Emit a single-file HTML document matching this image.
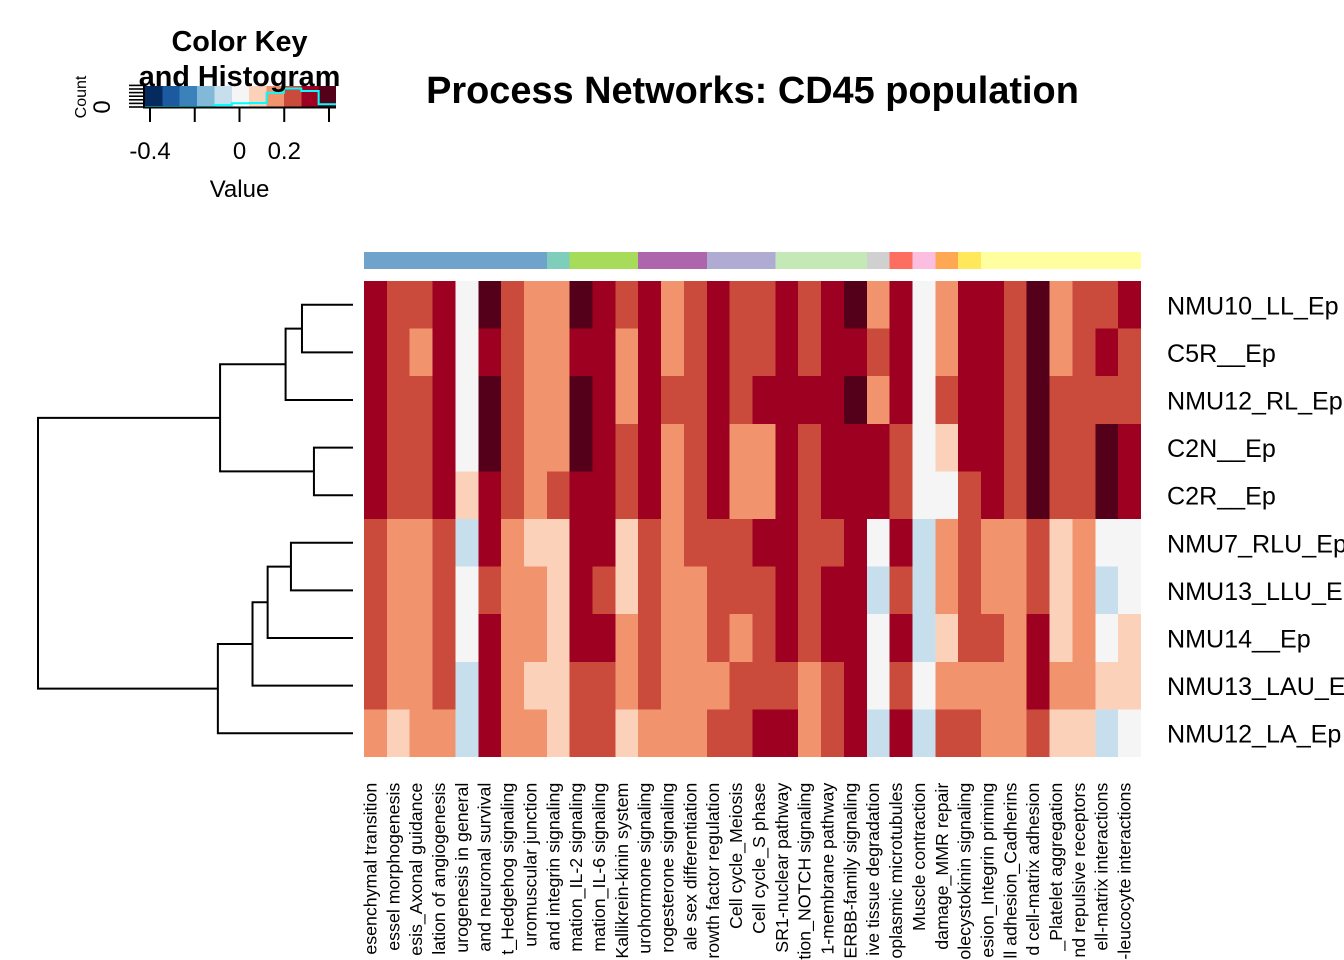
<!DOCTYPE html>
<html lang="en">
<head>
<meta charset="utf-8">
<title>Process Networks: CD45 population</title>
<style>
  html, body { margin: 0; padding: 0; background: #fff; }
  svg { display: block; font-family: "Liberation Sans", Arial, sans-serif; }
</style>
</head>
<body>
<svg id="chart" xmlns="http://www.w3.org/2000/svg" width="1344" height="960" viewBox="0 0 1344 960">
  <rect x="0" y="0" width="1344" height="960" fill="#ffffff"/>
  <g id="key"></g>
  <g id="sidebar"></g>
  <g id="cells"></g>
  <g id="dendro"></g>
  <g id="rowlabels"></g>
  <g id="collabels"></g>
  <text x="752.5" y="103" text-anchor="middle" font-size="37.9" font-weight="700">Process Networks: CD45 population</text>
  <text x="239.5" y="51" text-anchor="middle" font-size="28.8" font-weight="700">Color Key</text>
  <text x="239.5" y="86" text-anchor="middle" font-size="28.8" font-weight="700">and Histogram</text>
  <text x="239.5" y="197" text-anchor="middle" font-size="24">Value</text>
  <text transform="translate(86 97) rotate(-90)" text-anchor="middle" font-size="16">Count</text>
</svg>
<script>
// ---- data ----
const rowLabels = ["NMU10_LL_Ep","C5R__Ep","NMU12_RL_Ep","C2N__Ep","C2R__Ep","NMU7_RLU_Ep","NMU13_LLU_Ep","NMU14__Ep","NMU13_LAU_Ep","NMU12_LA_Ep"];
const colLabels = [
  "esenchymal transition","essel morphogenesis","esis_Axonal guidance","lation of angiogenesis",
  "urogenesis in general","and neuronal survival","t_Hedgehog signaling","uromuscular junction",
  "and integrin signaling","mation_IL-2 signaling","mation_IL-6 signaling","Kallikrein-kinin system",
  "urohormone signaling","rogesterone signaling","ale sex differentiation","rowth factor regulation",
  "Cell cycle_Meiosis","Cell cycle_S phase","SR1-nuclear pathway","tion_NOTCH signaling","1-membrane pathway",
  "ERBB-family signaling","ive tissue degradation","oplasmic microtubules","Muscle contraction","damage_MMR repair",
  "olecystokinin signaling","esion_Integrin priming","ll adhesion_Cadherins","d cell-matrix adhesion",
  "_Platelet aggregation","nd repulsive receptors","ell-matrix interactions","-leucocyte interactions"
];
const colGroups = [0,0,0,0,0,0,0,0,1,2,2,2,3,3,3,4,4,4,5,5,5,5,6,7,8,9,10,11,11,11,11,11,11,11];
const groupColors = ["#6FA3CC","#7FCDBB","#A6DC5A","#AD65AC","#B0ABD3","#C5E8B7","#D0D0D0","#FD6E61","#FBBEE0","#FEA853","#FFE95B","#FFFF9F"];
const valuesNMU10LL = [.31,.24,.24,.31,0,.39,.24,.16,.16,.39,.31,.24,.31,.16,.24,.31,.24,.24,.31,.24,.31,.39,.16,.31,0,.16,.31,.31,.24,.39,.16,.24,.24,.31];
const valuesC5R = [.31,.24,.16,.31,0,.31,.24,.16,.16,.31,.31,.16,.31,.16,.24,.31,.24,.24,.31,.24,.31,.31,.24,.31,0,.16,.31,.31,.24,.39,.16,.24,.31,.24];
const valuesNMU12RL = [.31,.24,.24,.31,0,.39,.24,.16,.16,.39,.31,.16,.31,.24,.24,.31,.24,.31,.31,.31,.31,.39,.16,.31,0,.24,.31,.31,.24,.39,.24,.24,.24,.24];
const valuesC2N = [.31,.24,.24,.31,0,.39,.24,.16,.16,.39,.31,.24,.31,.16,.24,.31,.16,.16,.31,.24,.31,.31,.31,.24,0,.08,.31,.31,.24,.39,.24,.24,.39,.31];
const valuesC2R = [.31,.24,.24,.31,.08,.31,.24,.16,.24,.31,.31,.24,.31,.16,.24,.31,.16,.16,.31,.24,.31,.31,.31,.24,0,0,.24,.31,.24,.39,.24,.24,.39,.31];
const valuesNMU7RLU = [.24,.16,.16,.24,-.08,.31,.16,.08,.08,.31,.31,.08,.24,.16,.24,.24,.24,.31,.31,.24,.24,.31,0,.31,-.08,.16,.24,.16,.16,.24,.08,.16,0,0];
const valuesNMU13LLU = [.24,.16,.16,.24,0,.24,.16,.16,.08,.31,.24,.08,.24,.16,.16,.24,.24,.24,.31,.24,.31,.31,-.08,.24,-.08,.16,.24,.16,.16,.24,.08,.16,-.08,0];
const valuesNMU14 = [.24,.16,.16,.24,0,.31,.16,.16,.08,.31,.31,.16,.24,.16,.16,.24,.16,.24,.31,.24,.31,.31,0,.31,-.08,.08,.24,.24,.16,.31,.08,.16,0,.08];
const valuesNMU13LAU = [.24,.16,.16,.24,-.08,.31,.16,.08,.08,.24,.24,.16,.24,.16,.16,.16,.24,.24,.24,.16,.24,.31,0,.24,0,.16,.16,.16,.16,.31,.16,.16,.08,.08];
const valuesNMU12LA = [.16,.08,.16,.16,-.08,.31,.16,.16,.08,.24,.24,.08,.16,.16,.16,.24,.24,.31,.31,.16,.24,.31,-.08,.31,-.08,.24,.24,.16,.16,.24,.08,.08,-.08,0];
const heatValues = [valuesNMU10LL,valuesC5R,valuesNMU12RL,valuesC2N,valuesC2R,valuesNMU7RLU,valuesNMU13LLU,valuesNMU14,valuesNMU13LAU,valuesNMU12LA];
const paletteColors = ["#052A5E","#1C5AA0","#3A82B9","#82B8D8","#C7DFED","#F5F5F5","#FCD1BA","#F1946E","#CA4A3C","#9E0022","#54001A"];
const keyTicks = [-0.4,-0.2,0,0.2,0.4];
const keyTickLabels = ["-0.4","","0","0.2",""];
const countTicks = [0,20,40,60,80,100,120];
// dendrogram merges: child ids (>=0 leaf row index, <0 merge -n-1) and merge height
const mergeLeft = [0,-1,3,-2,5,-5,-6,-7,-4];
const mergeRight = [1,2,4,-3,6,7,8,9,-8];
const mergeHeights = [0.162,0.214,0.124,0.422,0.197,0.271,0.319,0.429,1.0];

// ---- scales ----
const NS = "http://www.w3.org/2000/svg";
const colX = i => 364 + i * (1141 - 364) / colLabels.length;
const rowY = i => 281 + i * (757 - 281) / rowLabels.length;
const keyX = v => 239.5 + v * 223.75;
const countY = c => 107 - c * 0.18;
const heightX = h => 353 - h * 315;
const binMin = -0.4223, binWidth = 0.0776;
const binOf = v => Math.max(0, Math.min(paletteColors.length - 1, Math.floor((v - binMin) / binWidth)));

function mk(parent, tag, attrs) {
  const el = document.createElementNS(NS, tag);
  for (const k in attrs) el.setAttribute(k, attrs[k]);
  parent.appendChild(el);
  return el;
}
const $ = id => document.getElementById(id);

// ---- column side colours ----
colGroups.forEach((g, i) => {
  const el = mk($("sidebar"), "rect", {x: colX(i), y: 252, width: colX(i + 1) - colX(i), height: 17, fill: groupColors[g], "shape-rendering": "crispEdges"});
  
  
});

// ---- heatmap cells ----
heatValues.forEach((row, r) => {
  row.forEach((v, c) => {
    const el = mk($("cells"), "rect", {x: colX(c), y: rowY(r), width: colX(c + 1) - colX(c), height: rowY(r + 1) - rowY(r), fill: paletteColors[binOf(v)], "shape-rendering": "crispEdges"});
    
    
  });
});

// ---- row labels ----
rowLabels.forEach((t, r) => {
  const el = mk($("rowlabels"), "text", {x: 1167, y: (rowY(r) + rowY(r + 1)) / 2 + 9.5, "font-size": 25.1});
  el.textContent = t;
  
  
});

// ---- column labels ----
colLabels.forEach((t, c) => {
  const bx = (colX(c) + colX(c + 1)) / 2 + 1;
  const el = mk($("collabels"), "text", {transform: "translate(" + bx + " 782.7) rotate(-90)", "text-anchor": "end", "font-size": 17.8});
  el.textContent = t;
  
  
});

// ---- dendrogram ----
const nodePos = id => {
  if (id >= 0) return {x: 353, y: (rowY(id) + rowY(id + 1)) / 2};
  return mergePos[-id - 1];
};
const mergePos = [];
mergeHeights.forEach((h, m) => {
  const a = nodePos(mergeLeft[m]);
  const b = nodePos(mergeRight[m]);
  const x = heightX(h);
  const el = mk($("dendro"), "path", {d: "M" + a.x + " " + a.y + "H" + x + "V" + b.y + "H" + b.x, fill: "none", stroke: "#000", "stroke-width": 2, "stroke-linejoin": "miter"});
  
  
  mergePos.push({x: x, y: (a.y + b.y) / 2});
});

// ---- colour key ----
const boxW = 191 / paletteColors.length;
paletteColors.forEach((col, i) => {
  const el = mk($("key"), "rect", {x: 145 + i * boxW, y: 86, width: boxW, height: 21, fill: col, "shape-rendering": "crispEdges"});
  
  
});
// histogram derived from the heatmap values
const histCounts = paletteColors.map(() => 0);
heatValues.forEach(row => row.forEach(v => { histCounts[binOf(v)] += 1; }));
let stepPts = "M145 " + countY(0);
histCounts.forEach((n, i) => {
  stepPts += "V" + countY(n) + "H" + (145 + (i + 1) * boxW);
});
const hist = mk($("key"), "path", {d: stepPts, fill: "none", stroke: "#00FFFF", "stroke-width": 2});


// axes
const baseLine = mk($("key"), "line", {x1: 143, x2: 336, y1: 107.5, y2: 107.5, stroke: "#000", "stroke-width": 2});


const leftLine = mk($("key"), "line", {x1: 144, x2: 144, y1: 86, y2: 108, stroke: "#000", "stroke-width": 2});


keyTicks.forEach((v, i) => {
  const t = mk($("key"), "line", {x1: keyX(v), x2: keyX(v), y1: 107, y2: 122, stroke: "#000", "stroke-width": 2});
  
  
  if (keyTickLabels[i]) {
    const l = mk($("key"), "text", {x: keyX(v), y: 159, "text-anchor": "middle", "font-size": 24});
    l.textContent = keyTickLabels[i];
    
    
  }
});
countTicks.forEach(c => {
  const t = mk($("key"), "line", {x1: 129, x2: 144, y1: countY(c), y2: countY(c), stroke: "#000", "stroke-width": 1.6});
  
  
});
const zero = mk($("key"), "text", {transform: "translate(110 107) rotate(-90)", "text-anchor": "middle", "font-size": 24});
zero.textContent = "0";


</script>
</body>
</html>
